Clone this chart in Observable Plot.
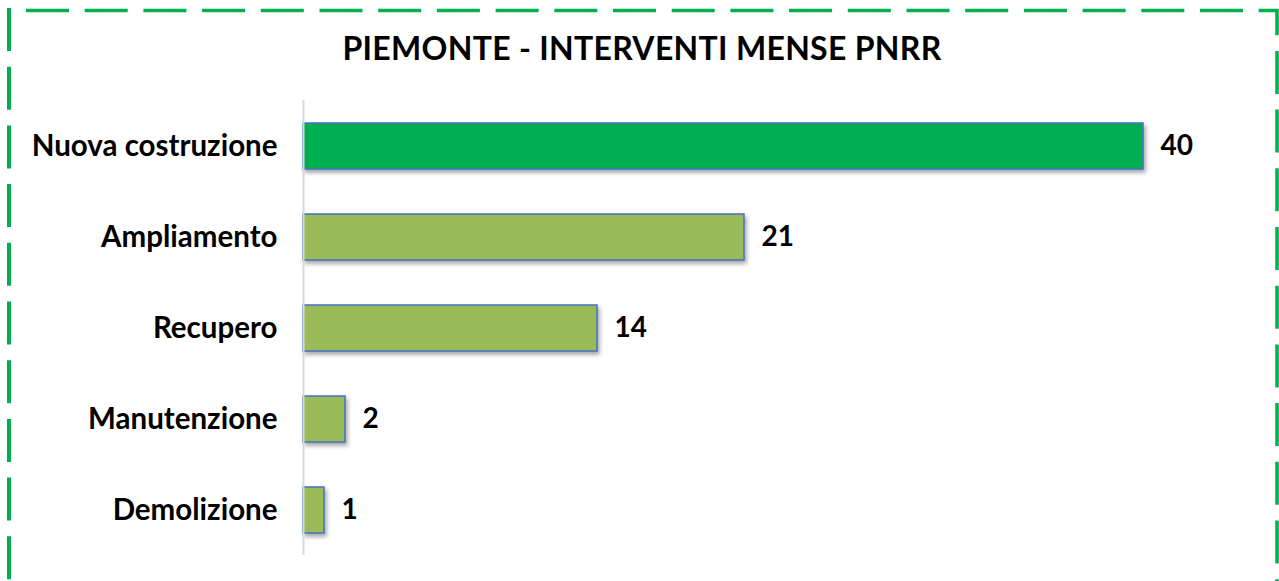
<!DOCTYPE html>
<html>
<head>
<meta charset="utf-8">
<script src="https://cdn.jsdelivr.net/npm/d3@7"></script>
<script src="https://cdn.jsdelivr.net/npm/@observablehq/plot@0.6"></script>
<style>
  html, body { margin: 0; padding: 0; background: #fff; }
  #wrap { position: relative; width: 1279px; height: 581px; overflow: hidden; background: #fff; font-family: Lato, "Open Sans", sans-serif; }
  #title { position: absolute; left: 0; top: 28px; width: 1284px; text-align: center; font-weight: 700; font-size: 32px; color: #000; line-height: 40px; letter-spacing: 0.3px; }
  #chart { position: absolute; left: 0; top: 90px; }
  #border { position: absolute; left: 0; top: 0; pointer-events: none; }
</style>
</head>
<body>
<div id="wrap">
  <div id="title">PIEMONTE - INTERVENTI MENSE PNRR</div>
  <div id="chart"></div>
  <svg id="border" width="1279" height="581">
    <path d="M26,10.5 H1277 V620" fill="none" stroke="#00b050" stroke-width="3.5" stroke-dasharray="43 15.7"/>
    <path d="M9,8 V620" fill="none" stroke="#00b050" stroke-width="4" stroke-dasharray="43 15.7"/>
  </svg>
</div>
<script>
const categories = ["Nuova costruzione", "Ampliamento", "Recupero", "Manutenzione", "Demolizione"];
const values = [40, 21, 14, 2, 1];
const fills = ["#00b050", "#9bbb59", "#9bbb59", "#9bbb59", "#9bbb59"];

const data = categories.map((c, i) => ({category: c, value: values[i], fill: fills[i]}));

const plot = Plot.plot({
  width: 1279,
  height: 491,
  marginLeft: 303,
  marginRight: 136,
  marginTop: 10,
  marginBottom: 26,
  style: {fontFamily: "Lato, 'Open Sans', sans-serif", background: "transparent", overflow: "visible"},
  x: {domain: [0, 40], axis: null},
  y: {domain: categories, paddingInner: 0.495, paddingOuter: 0.2475, label: null},
  marks: [
    Plot.barX(data, {x: "value", y: "category", fill: "fill", stroke: "#4472c4", strokeWidth: 1.5}),
    Plot.ruleX([0], {stroke: "#d9d9d9", strokeWidth: 2}),
    Plot.axisY({tickSize: 0, tickPadding: 26, fontSize: 29.5, fontWeight: 700, fill: "#000", label: null}),
    Plot.text(data, {x: "value", y: "category", text: d => String(d.value), dx: 17, textAnchor: "start", fontSize: 28, fontWeight: 700, fill: "#000"})
  ]
});
document.getElementById("chart").appendChild(plot);
const barG = plot.querySelector('g[aria-label="bar"]');
if (barG) barG.style.filter = "drop-shadow(2px 3px 2px rgba(0,0,0,0.35))";
</script>
</body>
</html>
